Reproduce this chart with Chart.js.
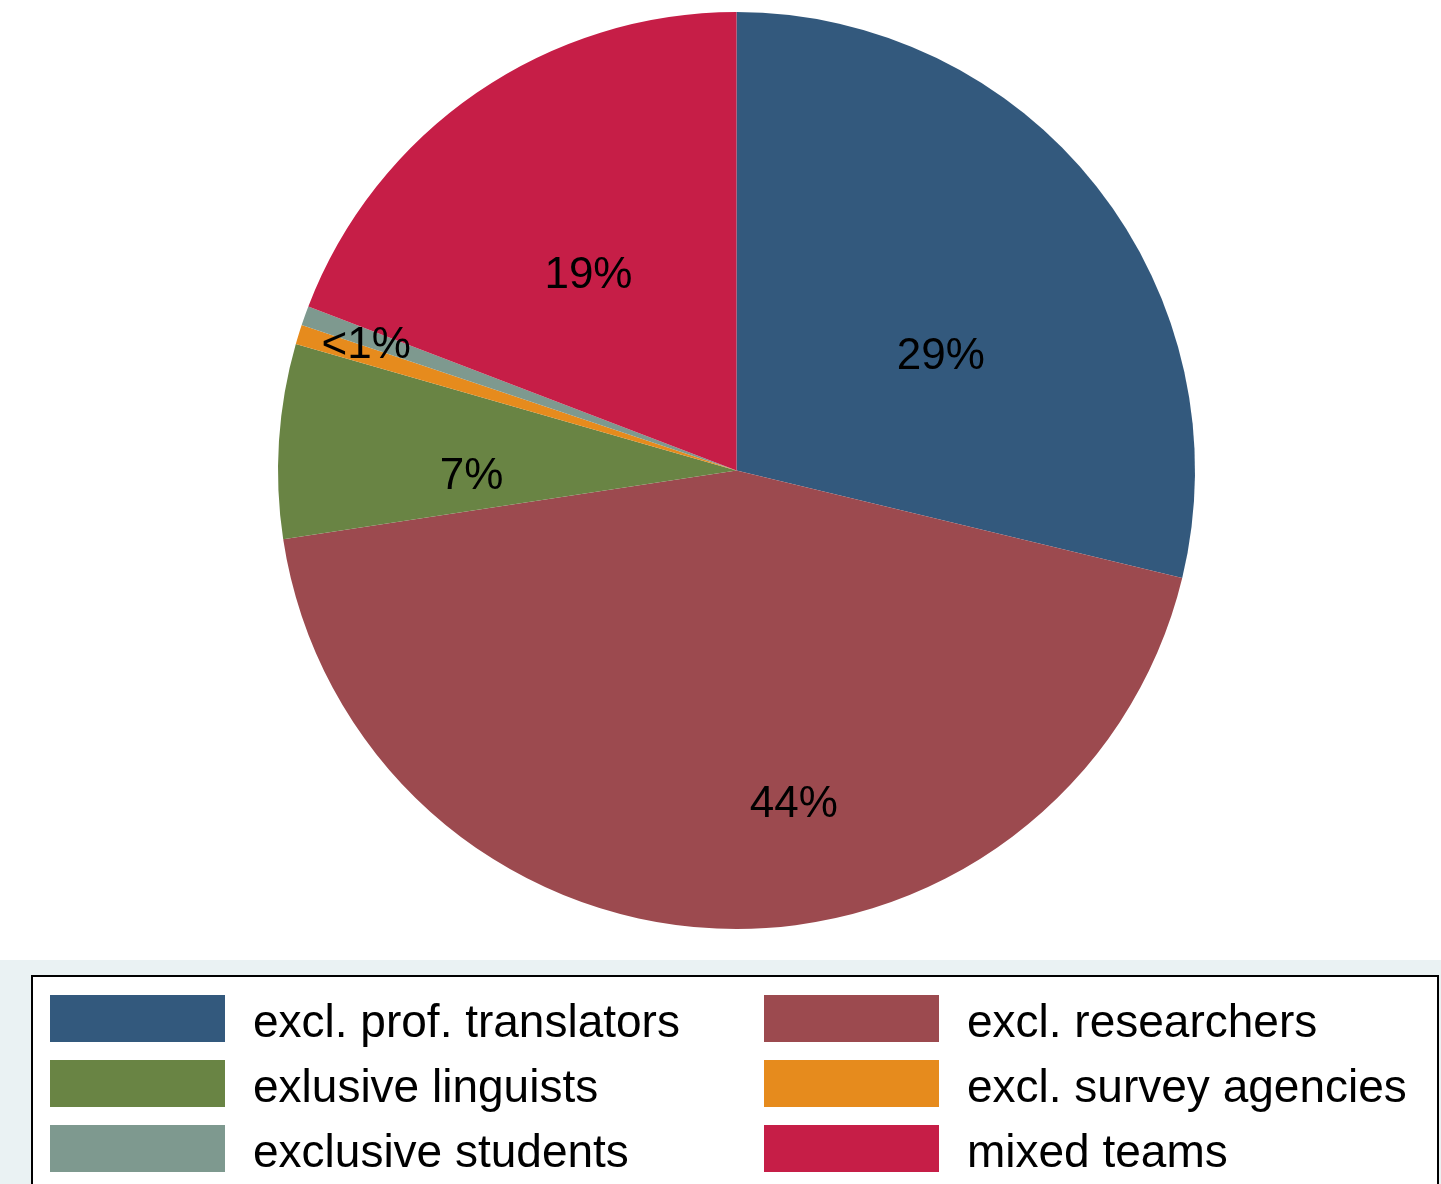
<!DOCTYPE html>
<html>
<head>
<meta charset="utf-8">
<title>Team composition</title>
<script src="https://cdn.jsdelivr.net/npm/chart.js@4"></script>
<style>
  html, body { margin: 0; padding: 0; background: #ffffff; }
  #wrap { width: 1441px; height: 1184px; }
</style>
</head>
<body>
<div id="wrap"><canvas id="pie" width="1441" height="1184"></canvas></div>
<script>
// Number of projects by team composition
const categories = [
  'excl. prof. translators',
  'excl. researchers',
  'exlusive linguists',
  'excl. survey agencies',
  'exclusive students',
  'mixed teams'
];
const counts = [42, 64, 10, 1, 1, 28];

const sliceColors = ['#33597D', '#9C4A4F', '#698444', '#E68B1D', '#7E998F', '#C61E47'];

// Where each percentage sits inside its slice: angular shift from the slice middle (deg)
// and distance from the centre as a fraction of the radius
const labelShiftDeg = [8.3, -12.3, -4.2, 1.9, -0.6, -2.2];
const labelRadius = [0.514, 0.732, 0.578, 0.855, 0.855, 0.540];

const FONT = '"Liberation Sans", Arial, Helvetica, sans-serif';

function pctText(v, total) {
  const p = v / total * 100;
  return p < 1 ? '<1%' : Math.round(p) + '%';
}

const sliceLabels = {
  id: 'sliceLabels',
  afterDatasetsDraw(chart) {
    const ctx = chart.ctx;
    const meta = chart.getDatasetMeta(0);
    const data = chart.data.datasets[0].data;
    const total = data.reduce((a, b) => a + b, 0);
    const size = 44;
    ctx.save();
    ctx.font = size + 'px ' + FONT;
    ctx.fillStyle = '#000000';
    ctx.textAlign = 'center';
    ctx.textBaseline = 'alphabetic';
    const drawn = new Set();
    meta.data.forEach((arc, i) => {
      const mid = (arc.startAngle + arc.endAngle) / 2 + labelShiftDeg[i] * Math.PI / 180;
      const r = arc.outerRadius * labelRadius[i];
      const x = arc.x + Math.cos(mid) * r;
      const y = arc.y + Math.sin(mid) * r + size * 0.358;
      const txt = pctText(data[i], total);
      const key = txt + '@' + Math.round(x) + ',' + Math.round(y);
      if (drawn.has(key)) return;
      drawn.add(key);
      ctx.fillText(txt, x, y);
    });
    ctx.restore();
  }
};

// Two-column legend in a framed box on a tinted band below the pie
const boxLegend = {
  id: 'boxLegend',
  afterDraw(chart) {
    const ctx = chart.ctx;
    const W = chart.width, H = chart.height;
    ctx.save();
    ctx.fillStyle = '#EAF2F3';
    ctx.fillRect(0, 960, W, H - 960);
    ctx.fillStyle = '#ffffff';
    ctx.fillRect(32, 976, 1406, H - 976 + 10);
    ctx.strokeStyle = '#000000';
    ctx.lineWidth = 2;
    ctx.strokeRect(32, 976, 1406, H - 976 + 10);

    const colSwatchX = [50, 764];
    const colTextX = [253, 967];
    const rowTop = 995, rowStep = 65, swW = 175, swH = 47;
    ctx.font = '46px ' + FONT;
    ctx.textAlign = 'left';
    ctx.textBaseline = 'alphabetic';
    const labels = chart.data.labels;
    const colors = chart.data.datasets[0].backgroundColor;
    labels.forEach((lab, i) => {
      const col = i % 2, row = Math.floor(i / 2);
      const y = rowTop + row * rowStep;
      ctx.fillStyle = colors[i];
      ctx.fillRect(colSwatchX[col], y, swW, swH);
      ctx.fillStyle = '#000000';
      ctx.fillText(lab, colTextX[col], y + 42);
    });
    ctx.restore();
  }
};

new Chart(document.getElementById('pie'), {
  type: 'pie',
  data: {
    labels: categories,
    datasets: [{
      data: counts,
      backgroundColor: sliceColors,
      borderWidth: 0,
      hoverOffset: 0
    }]
  },
  options: {
    responsive: false,
    animation: false,
    devicePixelRatio: 1,
    layout: { padding: { top: 12, bottom: 255, left: 32, right: 0 } },
    plugins: {
      legend: { display: false },
      tooltip: { enabled: false }
    }
  },
  plugins: [sliceLabels, boxLegend]
});
</script>
</body>
</html>
